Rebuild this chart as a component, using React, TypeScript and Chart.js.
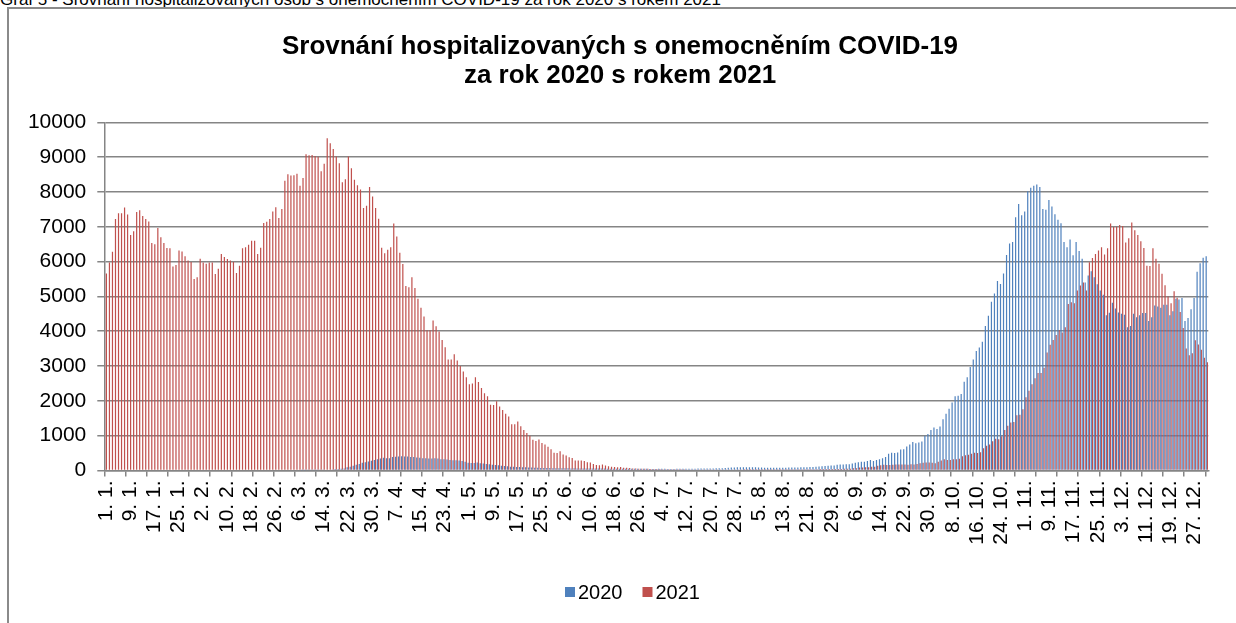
import React, { useEffect, useRef } from "react";
import { Chart, registerables } from "chart.js";

Chart.register(...registerables);

const FONT = '"Liberation Sans", Arial, sans-serif';

const captionText =
  "Graf 5 - Srovnání hospitalizovaných osob s onemocněním COVID-19 za rok 2020 s rokem 2021";
const titleLines = ["Srovnání hospitalizovaných s onemocněním COVID-19", "za rok 2020 s rokem 2021"];
const seriesNames = ["2020", "2021"];
const seriesColors = ["#4F81BD", "#C0504D"];

// day-of-year categories "D. M."
const monthLengths = [31, 28, 31, 30, 31, 30, 31, 31, 30, 31, 30, 31];
const categories: string[] = [];
monthLengths.forEach((len, m) => {
  for (let d = 1; d <= len; d++) categories.push(`${d}. ${m + 1}.`);
});
const labelEvery = 8; // every 8th category carries a label
const tickMarkEvery = 7; // tick marks every 7 categories

const yTicks = { min: 0, max: 10000, step: 1000 };

const hosp2020 = [
  0, 0, 0, 0, 0, 0, 0, 0, 0, 0,
  0, 0, 0, 0, 0, 0, 0, 0, 0, 0,
  0, 0, 0, 0, 0, 0, 0, 0, 0, 0,
  0, 0, 0, 0, 0, 0, 0, 0, 0, 0,
  0, 0, 0, 0, 0, 0, 0, 0, 0, 0,
  0, 0, 0, 0, 0, 0, 0, 0, 0, 0,
  0, 0, 0, 0, 0, 2, 3, 4, 6, 8,
  10, 12, 15, 20, 25, 30, 40, 40, 50, 60,
  90, 105, 135, 165, 190, 220, 240, 260, 280, 300,
  325, 345, 365, 355, 355, 385, 395, 405, 410, 405,
  400, 390, 385, 375, 365, 355, 355, 345, 345, 355,
  345, 325, 325, 315, 305, 295, 295, 290, 270, 250,
  225, 215, 215, 230, 210, 200, 187, 177, 165, 158,
  150, 139, 130, 120, 110, 108, 100, 98, 95, 91,
  88, 84, 81, 80, 75, 72, 72, 70, 68, 66,
  65, 64, 64, 62, 61, 62, 60, 58, 58, 57,
  56, 56, 55, 55, 54, 54, 53, 53, 52, 53,
  52, 51, 50, 50, 50, 49, 48, 48, 47, 47,
  46, 45, 45, 47, 48, 48, 46, 45, 46, 47,
  48, 49, 50, 50, 52, 53, 54, 55, 55, 56,
  58, 60, 62, 64, 66, 70, 78, 85, 88, 90,
  92, 90, 91, 93, 92, 90, 88, 85, 82, 80,
  80, 78, 79, 80, 81, 82, 84, 85, 86, 88,
  90, 92, 95, 98, 100, 110, 118, 122, 128, 135,
  140, 145, 165, 170, 170, 180, 180, 200, 220, 240,
  250, 250, 270, 300, 270, 300, 325, 355, 385, 480,
  510, 500, 515, 600, 610, 690, 750, 815, 785, 805,
  835, 1000, 1045, 1160, 1235, 1190, 1265, 1475, 1630, 1770,
  1955, 2135, 2145, 2195, 2550, 2680, 2970, 3190, 3430, 3535,
  3700, 4150, 4445, 4845, 5085, 5440, 5355, 5660, 6190, 6520,
  6560, 7270, 7650, 7330, 7440, 8020, 8120, 8180, 8210, 8140,
  7510, 7490, 7770, 7580, 7360, 7200, 7100, 6560, 6410, 6630,
  6180, 6560, 6300, 6080, 5400, 5600, 5720, 5550, 5350, 5170,
  5050, 4460, 4530, 4820, 4650, 4540, 4500, 4470, 4110, 4150,
  4500, 4400, 4460, 4520, 4520, 4290, 4400, 4740, 4710, 4670,
  4760, 4760, 4460, 4570, 4930, 4910, 4950, 4290, 4380, 4630,
  4950, 5710, 5950, 6110, 6150,
];

const hosp2021 = [
  5660, 5970, 6280, 7220, 7390, 7390, 7550, 7350, 6760, 6870,
  7420, 7470, 7310, 7220, 7150, 6530, 6500, 6960, 6700, 6530,
  6390, 6380, 5860, 5900, 6320, 6290, 6150, 6030, 5990, 5500,
  5550, 6080, 5970, 5940, 5970, 5970, 5640, 5790, 6220, 6130,
  6070, 6030, 5990, 5670, 5880, 6380, 6410, 6480, 6600, 6600,
  6220, 6400, 7110, 7140, 7220, 7440, 7560, 7250, 7510, 8320,
  8510, 8470, 8480, 8520, 8180, 8400, 9080, 9050, 9060, 9030,
  9010, 8590, 8810, 9540, 9400, 9230, 9020, 8820, 8280, 8360,
  9020, 8680, 8350, 8190, 8070, 7540, 7600, 8140, 7870, 7540,
  7230, 6400, 6240, 6340, 6410, 7090, 6720, 6250, 5930, 5300,
  5260, 5550, 5240, 4930, 4670, 4420, 4030, 4030, 4310, 4140,
  3990, 3750, 3540, 3190, 3190, 3340, 3160, 3000, 2840, 2680,
  2480, 2500, 2680, 2540, 2370, 2220, 2130, 1890, 1880, 1990,
  1840, 1740, 1630, 1550, 1330, 1330, 1410, 1270, 1160, 1080,
  1000, 880, 850, 890, 790, 750, 680, 610, 510, 500,
  550, 460, 430, 380, 360, 290, 290, 290, 270, 240,
  230, 190, 160, 150, 170, 140, 120, 110, 100, 90,
  100, 80, 80, 70, 60, 55, 52, 50, 50, 48,
  45, 45, 42, 40, 38, 38, 36, 35, 35, 34,
  33, 33, 32, 32, 31, 30, 30, 30, 30, 29,
  29, 30, 30, 30, 31, 31, 31, 32, 32, 32,
  32, 33, 33, 33, 33, 34, 34, 34, 34, 35,
  35, 35, 35, 36, 36, 36, 36, 37, 37, 37,
  38, 38, 38, 39, 39, 39, 40, 40, 40, 41,
  41, 40, 40, 40, 50, 50, 50, 65, 65, 85,
  85, 95, 95, 105, 110, 135, 150, 165, 155, 155,
  165, 170, 170, 170, 170, 165, 180, 175, 190, 210,
  220, 230, 230, 220, 210, 250, 285, 325, 305, 300,
  325, 325, 335, 410, 440, 450, 480, 510, 500, 525,
  640, 710, 750, 840, 910, 900, 985, 1160, 1285, 1380,
  1390, 1590, 1600, 1760, 2100, 2290, 2480, 2650, 2800, 2800,
  2950, 3390, 3610, 3750, 3890, 4030, 3960, 4110, 4780, 4830,
  4800, 5170, 5310, 5400, 5170, 5980, 6100, 6220, 6320, 6410,
  6200, 6380, 7090, 6990, 7000, 7050, 7020, 6550, 6670, 7120,
  6900, 6760, 6580, 6390, 5880, 5870, 6380, 6080, 5940, 5650,
  5320, 5000, 4800, 5150, 4960, 4550, 4090, 3500, 3310, 3370,
  3740, 3620, 3470, 3240, 3110,
];

const W = 1236;
const H = 623;
const AREA_BOTTOM = 470.5;
const X_AXIS_H = 100;
const PAD_LEFT = 21;
const AXIS_GRAY = "#858585";
const LEGEND_X = 565;
const LEGEND_Y = 592;

// simple legend drawn on the chart canvas (square + label, Excel-like spacing)
const bottomLegend = {
  id: "bottomLegend",
  afterDraw(chart: any) {
    const ctx = chart.ctx;
    ctx.save();
    ctx.font = `20px ${FONT}`;
    ctx.textBaseline = "middle";
    ctx.textAlign = "left";
    let x = LEGEND_X;
    chart.data.datasets.forEach((ds: any) => {
      ctx.fillStyle = ds.backgroundColor;
      ctx.fillRect(x, LEGEND_Y - 5, 10, 10);
      ctx.fillStyle = "#000";
      ctx.fillText(ds.label, x + 13, LEGEND_Y + 1);
      x += 13 + ctx.measureText(ds.label).width + 20;
    });
    ctx.restore();
  },
};

export default function App() {
  const ref = useRef<HTMLCanvasElement | null>(null);

  useEffect(() => {
    if (!ref.current) return;
    const chart = new Chart(ref.current, {
      type: "bar",
      data: {
        labels: categories,
        datasets: [
          {
            label: seriesNames[0],
            data: hosp2020,
            backgroundColor: seriesColors[0],
            borderWidth: 0,
            categoryPercentage: 0.8,
            barPercentage: 1,
          },
          {
            label: seriesNames[1],
            data: hosp2021,
            backgroundColor: seriesColors[1],
            borderWidth: 0,
            categoryPercentage: 0.8,
            barPercentage: 1,
          },
        ],
      },
      options: {
        animation: false,
        responsive: false,
        devicePixelRatio: 1,
        events: [],
        layout: {
          padding: { left: PAD_LEFT, right: 17, top: 0, bottom: H - AREA_BOTTOM - X_AXIS_H },
        },
        plugins: {
          title: {
            display: true,
            text: titleLines,
            color: "#000",
            font: { family: FONT, size: 26, weight: "bold", lineHeight: 1.13 },
            padding: { top: 32, bottom: 31.5 },
          },
          legend: { display: false },
          tooltip: { enabled: false },
        },
        scales: {
          x: {
            type: "category",
            offset: true,
            grid: {
              offset: true,
              drawOnChartArea: false,
              drawTicks: true,
              tickLength: 6,
              lineWidth: 1.5,
              color: (ctx: any) => (ctx.index % tickMarkEvery === 0 ? AXIS_GRAY : "rgba(0,0,0,0)"),
            },
            border: { color: AXIS_GRAY, width: 1.5 },
            ticks: {
              autoSkip: false,
              minRotation: 90,
              maxRotation: 90,
              padding: 4,
              color: "#000",
              font: { family: FONT, size: 21 },
              callback: (_v: any, i: number) => (i % labelEvery === 0 ? categories[i] : ""),
            },
            afterFit: (s: any) => {
              s.height = X_AXIS_H;
            },
          },
          y: {
            min: yTicks.min,
            max: yTicks.max,
            ticks: {
              stepSize: yTicks.step,
              padding: 11,
              color: "#000",
              font: { family: FONT, size: 21 },
              callback: (v: any) => String(v),
            },
            grid: { color: AXIS_GRAY, lineWidth: 1.5, tickLength: 7 },
            border: { color: AXIS_GRAY, width: 1.5 },
            afterFit: (s: any) => {
              s.width = 104.3 - PAD_LEFT;
            },
          },
        },
      },
      plugins: [bottomLegend],
    });
    return () => chart.destroy();
  }, []);

  return (
    <div
      style={{
        position: "fixed",
        left: 0,
        top: 0,
        width: W,
        height: H,
        overflow: "hidden",
        background: "#fff",
      }}
    >
      <div
        style={{
          position: "absolute",
          left: 0,
          top: -9,
          fontFamily: FONT,
          fontSize: 17,
          lineHeight: "17px",
          whiteSpace: "nowrap",
          color: "#000",
        }}
      >
        {captionText}
      </div>
      <div
        style={{
          position: "absolute",
          left: 7,
          top: 7,
          width: 1260,
          height: 700,
          border: "2px solid #8a8a8a",
          boxSizing: "border-box",
        }}
      />
      <canvas
        ref={ref}
        width={W}
        height={H}
        style={{ position: "absolute", left: 0, top: 0, width: W, height: H, display: "block" }}
      />
    </div>
  );
}
